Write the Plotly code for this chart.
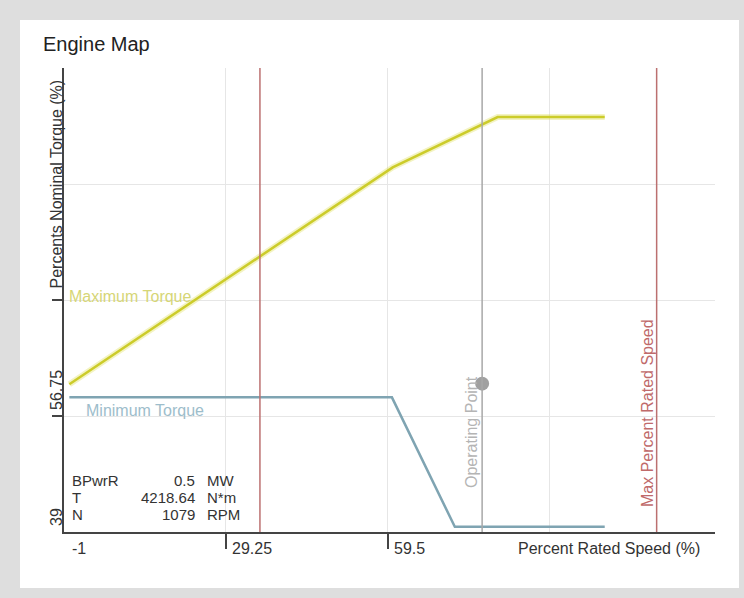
import plotly.graph_objects as go

# ---- data ----
max_torque_x = [0, 60.4, 80.0, 100]
max_torque_y = [61.6, 94.8, 102.5, 102.5]
min_torque_x = [0, 60.25, 72.0, 100]
min_torque_y = [59.6, 59.6, 39.8, 39.8]
operating_point_x = [77.1]
operating_point_y = [61.7]
ref_line_1_x = 35.6          # red vertical line
max_rated_speed_x = 109.7    # red vertical line
x_tick_vals = [-1, 29.25, 59.5]
x_tick_text = ["-1", "29.25", "59.5"]
x_grid_vals = [29.25, 59.5, 89.75]
y_tick_vals = [39, 56.75]
y_tick_text = ["39", "56.75"]
y_grid_vals = [56.75, 74.5, 92.25]
info_labels = ["BPwrR", "T", "N"]
info_values = ["0.5", "4218.64", "1079"]
info_units = ["MW", "N*m", "RPM"]

W, H = 744, 598
L, R, T, B = 64, 715, 68, 532


def px(xp):
    return (xp - L) / (R - L)


def py(yp):
    return (B - yp) / (B - T)


FONT = "Liberation Sans, Arial, sans-serif"
RED = "rgb(188,112,112)"

fig = go.Figure()

fig.add_trace(go.Scatter(x=max_torque_x, y=max_torque_y, mode="lines",
                         line=dict(color="rgba(220,220,80,0.35)", width=6),
                         hoverinfo="skip", showlegend=False))
fig.add_trace(go.Scatter(x=max_torque_x, y=max_torque_y, mode="lines",
                         line=dict(color="#cccc2a", width=2.5),
                         name="Maximum Torque", showlegend=False))
fig.add_trace(go.Scatter(x=min_torque_x, y=min_torque_y, mode="lines",
                         line=dict(color="#7fa4b2", width=2.5),
                         name="Minimum Torque", showlegend=False))

# vertical lines
for xv, col in [(ref_line_1_x, RED), (operating_point_x[0], "#a8a8a8"),
                (max_rated_speed_x, RED)]:
    fig.add_shape(type="line", xref="x", yref="paper", x0=xv, x1=xv, y0=0, y1=1,
                  line=dict(color=col, width=1.5), layer="above")

fig.add_trace(go.Scatter(x=operating_point_x, y=operating_point_y, mode="markers",
                         marker=dict(color="#a0a0a0", size=14),
                         name="Operating Point", showlegend=False))

# white panel
fig.add_shape(type="rect", xref="paper", yref="paper",
              x0=px(20), x1=px(739), y0=py(588), y1=py(20),
              fillcolor="white", line=dict(width=0), layer="below")

ann = []
ann.append(dict(text="Engine Map", xref="paper", yref="paper", x=px(41), y=py(44),
                xanchor="left", yanchor="middle", showarrow=False,
                font=dict(size=20, color="#222", family=FONT)))
# x tick labels
for v, t in zip(x_tick_vals, x_tick_text):
    ann.append(dict(text=t, xref="x", yref="paper", x=v, y=py(548),
                    xanchor="left", yanchor="middle", xshift=6 if v == -1 else 4,
                    showarrow=False, font=dict(size=16, color="#333", family=FONT)))
# y tick labels
for v, t in zip(y_tick_vals, y_tick_text):
    ann.append(dict(text=t, xref="paper", yref="y", x=px(56), y=v,
                    xanchor="center", yanchor="bottom", yshift=4, textangle=-90,
                    showarrow=False, font=dict(size=16, color="#333", family=FONT)))
# axis titles
ann.append(dict(text="Percents Nominal Torque (%)", xref="paper", yref="y",
                x=px(56), y=y_grid_vals[1], xanchor="center", yanchor="bottom",
                yshift=9, textangle=-90, showarrow=False,
                font=dict(size=16, color="#333", family=FONT)))
ann.append(dict(text="Percent Rated Speed (%)", xref="paper", yref="paper",
                x=px(516), y=py(548), xanchor="left", yanchor="middle",
                showarrow=False, font=dict(size=16, color="#333", family=FONT)))
# series labels
ann.append(dict(text="Maximum Torque", xref="paper", yref="paper", x=px(67), y=py(296),
                xanchor="left", yanchor="middle", showarrow=False,
                font=dict(size=16, color="#d6d676", family=FONT)))
ann.append(dict(text="Minimum Torque", xref="paper", yref="paper", x=px(84), y=py(410),
                xanchor="left", yanchor="middle", showarrow=False,
                font=dict(size=16, color="#9dbdcb", family=FONT)))
ann.append(dict(text="Operating Point", xref="paper", yref="paper", x=px(471), y=py(432),
                xanchor="center", yanchor="middle", textangle=-90, showarrow=False,
                font=dict(size=16, color="#b4b4b4", family=FONT)))
ann.append(dict(text="Max Percent Rated Speed", xref="paper", yref="paper", x=px(647),
                y=py(413), xanchor="center", yanchor="middle", textangle=-90,
                showarrow=False, font=dict(size=16, color="#c06a6a", family=FONT)))
# info block
for i, (lab, val, unit) in enumerate(zip(info_labels, info_values, info_units)):
    yy = py(480 + 17 * i)
    ann.append(dict(text=lab, xref="paper", yref="paper", x=px(70), y=yy,
                    xanchor="left", yanchor="middle", showarrow=False,
                    font=dict(size=15, color="#333", family=FONT)))
    ann.append(dict(text=val, xref="paper", yref="paper", x=px(197), y=yy,
                    xanchor="right", yanchor="middle", showarrow=False,
                    font=dict(size=15, color="#333", family=FONT)))
    ann.append(dict(text=unit, xref="paper", yref="paper", x=px(205), y=yy,
                    xanchor="left", yanchor="middle", showarrow=False,
                    font=dict(size=15, color="#333", family=FONT)))

fig.update_layout(
    width=W, height=H,
    margin=dict(l=L, r=W - R, t=T, b=H - B, pad=0),
    paper_bgcolor="#dedede",
    plot_bgcolor="rgba(0,0,0,0)",
    showlegend=False,
    annotations=ann,
    xaxis=dict(range=[-1, 120.6], tickvals=x_tick_vals[1:], ticks="outside",
               ticklen=15, tickcolor="#444", tickwidth=1.5, showticklabels=False,
               showgrid=False, zeroline=False, showline=True, linecolor="#444",
               linewidth=1.5,
               minor=dict(tickvals=x_grid_vals, showgrid=True, gridcolor="#e6e6e6",
                          gridwidth=1, ticks="")),
    yaxis=dict(range=[39, 110], tickvals=y_grid_vals[:2], ticks="outside",
               ticklen=10, tickcolor="#444", tickwidth=1.5, showticklabels=False,
               showgrid=False, zeroline=False, showline=True, linecolor="#444",
               linewidth=1.5,
               minor=dict(tickvals=y_grid_vals, showgrid=True, gridcolor="#e6e6e6",
                          gridwidth=1, ticks="")),
)

fig.write_html("out.html")
